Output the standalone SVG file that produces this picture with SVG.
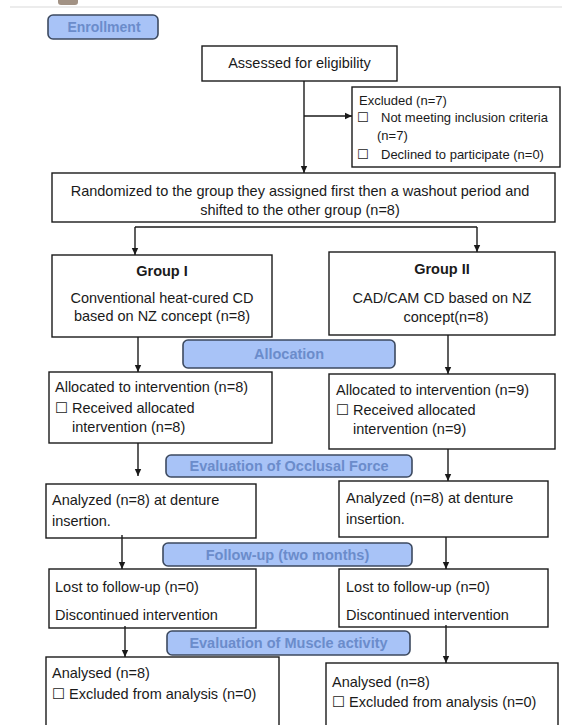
<svg xmlns="http://www.w3.org/2000/svg" width="562" height="725" viewBox="0 0 562 725">
<style>
  .box { fill: #ffffff; stroke: #1a1a1a; stroke-width: 1.4; }
  .pill { fill: #a8c3f7; stroke: #3d4a60; stroke-width: 1.6; }
  .pt { font-family: "Liberation Sans", Arial, sans-serif; font-weight: bold; font-size: 14.5px; fill: #6b8ccb; text-anchor: middle; }
  .t { font-family: "Liberation Sans", Arial, "DejaVu Sans", sans-serif; font-size: 14.5px; fill: #1a1a1a; }
  .ts { font-family: "Liberation Sans", Arial, "DejaVu Sans", sans-serif; font-size: 13px; fill: #1a1a1a; }
  .c { text-anchor: middle; }
  .b { font-weight: bold; }
  .ln { fill: none; stroke: #1a1a1a; stroke-width: 1.4; }
</style>
<defs>
  <marker id="ah" markerUnits="userSpaceOnUse" markerWidth="8" markerHeight="8" refX="7" refY="4" orient="auto">
    <path d="M0,0.8 L7,4 L0,7.2 Z" fill="#1a1a1a"/>
  </marker>
</defs>
<rect width="562" height="725" fill="#ffffff"/>
<line x1="10" y1="7" x2="562" y2="7" stroke="#dadada" stroke-width="1.2"/>
<rect x="58" y="-4" width="20" height="9" rx="3" fill="#7a6450" opacity="0.7"/>

<g id="enrollment">
  <rect class="pill" x="48" y="15" width="110" height="24" rx="5"/>
  <text class="pt" x="104" y="32" style="font-size:14px">Enrollment</text>
</g>
<g id="assessed">
  <rect class="box" x="202" y="46" width="195" height="35"/>
  <text class="t c" x="299.5" y="68">Assessed for eligibility</text>
</g>
<g id="excluded">
  <rect class="box" x="352" y="87" width="208" height="80"/>
  <text class="ts" x="359" y="105">Excluded (n=7)</text>
  <text class="ts" x="357" y="122">☐</text>
  <text class="ts" x="381" y="122">Not meeting inclusion criteria</text>
  <text class="ts" x="377" y="140">(n=7)</text>
  <text class="ts" x="357" y="159">☐</text>
  <text class="ts" x="381" y="159">Declined to participate (n=0)</text>
</g>
<g id="randomized">
  <rect class="box" x="52" y="173" width="503" height="49"/>
  <text class="t c" x="300" y="196">Randomized to the group they assigned first then a washout period and</text>
  <text class="t c" x="300" y="215">shifted to the other group (n=8)</text>
</g>
<g id="group1">
  <rect class="box" x="52" y="255" width="220" height="82"/>
  <text class="t c b" x="162" y="276">Group I</text>
  <text class="t c" x="162" y="303">Conventional heat-cured CD</text>
  <text class="t c" x="162" y="321">based on NZ concept (n=8)</text>
</g>
<g id="group2">
  <rect class="box" x="329" y="252" width="226" height="83"/>
  <text class="t c b" x="442" y="274">Group II</text>
  <text class="t c" x="442" y="303">CAD/CAM CD based on NZ</text>
  <text class="t c" x="446" y="322">concept(n=8)</text>
</g>
<g id="allocation">
  <rect class="pill" x="183" y="340" width="212" height="28" rx="5"/>
  <text class="pt" x="289" y="359">Allocation</text>
</g>
<g id="allocated1">
  <rect class="box" x="49" y="372" width="223" height="71"/>
  <text class="t" x="55" y="392">Allocated to intervention (n=8)</text>
  <text class="t" x="55" y="413">☐ Received allocated</text>
  <text class="t" x="72" y="432">intervention (n=8)</text>
</g>
<g id="allocated2">
  <rect class="box" x="329" y="374" width="226" height="75"/>
  <text class="t" x="336" y="395">Allocated to intervention (n=9)</text>
  <text class="t" x="336" y="415">☐ Received allocated</text>
  <text class="t" x="353" y="434">intervention (n=9)</text>
</g>
<g id="occlusal">
  <rect class="pill" x="166" y="455" width="246" height="22" rx="5"/>
  <text class="pt" x="289" y="471">Evaluation of Occlusal Force</text>
</g>
<g id="analyzed1">
  <rect class="box" x="46" y="484" width="210" height="54"/>
  <text class="t" x="52" y="505">Analyzed (n=8) at denture</text>
  <text class="t" x="52" y="526">insertion.</text>
</g>
<g id="analyzed2">
  <rect class="box" x="339" y="481" width="209" height="56"/>
  <text class="t" x="346" y="503">Analyzed (n=8) at denture</text>
  <text class="t" x="346" y="524">insertion.</text>
</g>
<g id="followup">
  <rect class="pill" x="163" y="543" width="249" height="23" rx="5"/>
  <text class="pt" x="287.5" y="560">Follow-up (two months)</text>
</g>
<g id="lost1">
  <rect class="box" x="49" y="569" width="207" height="59"/>
  <text class="t" x="55" y="592">Lost to follow-up (n=0)</text>
  <text class="t" x="55" y="620">Discontinued intervention</text>
</g>
<g id="lost2">
  <rect class="box" x="339" y="569" width="209" height="58"/>
  <text class="t" x="346" y="592">Lost to follow-up (n=0)</text>
  <text class="t" x="346" y="620">Discontinued intervention</text>
</g>
<g id="muscle">
  <rect class="pill" x="167" y="631" width="243" height="24" rx="5"/>
  <text class="pt" x="288.5" y="648">Evaluation of Muscle activity</text>
</g>
<g id="analysed1">
  <rect class="box" x="46" y="657" width="233" height="90"/>
  <text class="t" x="52" y="678">Analysed (n=8)</text>
  <text class="t" x="52" y="699">☐ Excluded from analysis (n=0)</text>
</g>
<g id="analysed2">
  <rect class="box" x="326" y="663" width="232" height="90"/>
  <text class="t" x="332" y="687">Analysed (n=8)</text>
  <text class="t" x="332" y="707">☐ Excluded from analysis (n=0)</text>
</g>

<g id="connectors">
  <line class="ln" x1="304" y1="81" x2="304" y2="173" marker-end="url(#ah)"/>
  <line class="ln" x1="304" y1="116" x2="352" y2="116" marker-end="url(#ah)"/>
  <line class="ln" x1="135" y1="227" x2="477" y2="227"/>
  <line class="ln" x1="135" y1="227" x2="135" y2="255" marker-end="url(#ah)"/>
  <line class="ln" x1="477" y1="227" x2="477" y2="252" marker-end="url(#ah)"/>
  <line class="ln" x1="138" y1="337" x2="138" y2="372" marker-end="url(#ah)"/>
  <line class="ln" x1="448" y1="335" x2="448" y2="374" marker-end="url(#ah)"/>
  <line class="ln" x1="138" y1="443" x2="138" y2="476" marker-end="url(#ah)"/>
  <line class="ln" x1="448" y1="449" x2="448" y2="481" marker-end="url(#ah)"/>
  <line class="ln" x1="122" y1="535" x2="122" y2="569" marker-end="url(#ah)"/>
  <line class="ln" x1="446" y1="537" x2="446" y2="569" marker-end="url(#ah)"/>
  <line class="ln" x1="125" y1="626" x2="125" y2="657" marker-end="url(#ah)"/>
  <line class="ln" x1="446" y1="625" x2="446" y2="663" marker-end="url(#ah)"/>
</g>
</svg>
